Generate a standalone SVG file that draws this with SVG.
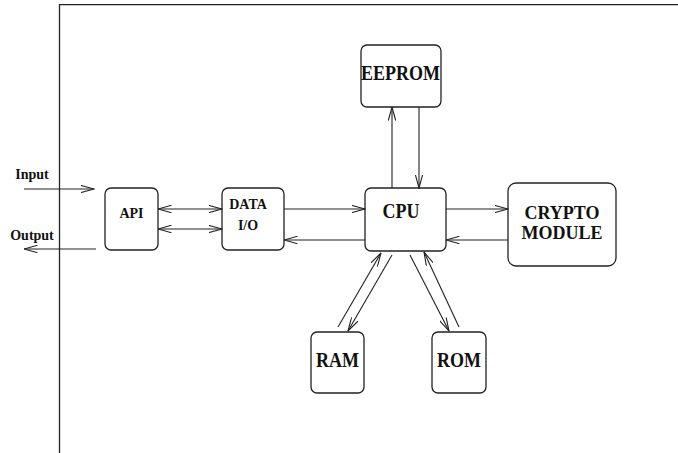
<svg xmlns="http://www.w3.org/2000/svg" width="678" height="453" viewBox="0 0 678 453">
  <style>
    .box { fill: #fff; stroke: #222; stroke-width: 1.3; }
    .lbl { font-family: "Liberation Serif", "Times New Roman", serif; font-weight: bold; fill: #111; text-anchor: middle; }
    .sm { font-size: 14px; }
    .lg { font-size: 18px; }
    .wire { stroke: #222; stroke-width: 1.1; fill: none; marker-end: url(#v); }
    .dbl { marker-start: url(#vs); }
    .frame { stroke: #222; stroke-width: 1.3; fill: none; }
  </style>
  <defs>
    <marker id="v" markerUnits="userSpaceOnUse" viewBox="0 0 14 8" markerWidth="14" markerHeight="8" refX="13.5" refY="4" orient="auto">
      <path d="M0,0.3 L13.5,4 L0,7.7" fill="none" stroke="#222" stroke-width="1.1"/>
    </marker>
    <marker id="vs" markerUnits="userSpaceOnUse" viewBox="0 0 14 8" markerWidth="14" markerHeight="8" refX="0.5" refY="4" orient="auto">
      <path d="M14,0.3 L0.5,4 L14,7.7" fill="none" stroke="#222" stroke-width="1.1"/>
    </marker>
  </defs>

  <rect width="678" height="453" fill="#fff"/>

  <!-- boundary of the device -->
  <path class="frame" d="M678,4.7 H59.5 V453"/>

  <!-- external labels -->
  <text class="lbl sm" x="32" y="179">Input</text>
  <text class="lbl sm" x="32" y="240">Output</text>

  <g id="api">
    <rect class="box" x="105" y="188" width="53" height="62" rx="6"/>
    <text class="lbl sm" x="131.5" y="218">API</text>
  </g>

  <g id="data-io">
    <rect class="box" x="222" y="188" width="62" height="62" rx="6"/>
    <text class="lbl sm" x="248" y="209">DATA</text>
    <text class="lbl sm" x="248" y="230">I/O</text>
  </g>

  <g id="cpu">
    <rect class="box" x="365" y="188" width="81" height="63" rx="6"/>
    <text class="lbl lg" transform="translate(401,218) scale(1,1.17)">CPU</text>
  </g>

  <g id="eeprom">
    <rect class="box" x="361" y="45" width="80" height="62" rx="6"/>
    <text class="lbl lg" transform="translate(400.5,80) scale(1,1.17)">EEPROM</text>
  </g>

  <g id="crypto">
    <rect class="box" x="508" y="183" width="108" height="83" rx="8"/>
    <text class="lbl lg" transform="translate(562,219) scale(1,1.1)">CRYPTO</text>
    <text class="lbl lg" transform="translate(562,239) scale(1,1.1)">MODULE</text>
  </g>

  <g id="ram">
    <rect class="box" x="311" y="332" width="53" height="61" rx="6"/>
    <text class="lbl lg" transform="translate(337.5,367) scale(1,1.17)">RAM</text>
  </g>

  <g id="rom">
    <rect class="box" x="432" y="332" width="54" height="61" rx="6"/>
    <text class="lbl lg" transform="translate(459,367) scale(1,1.17)">ROM</text>
  </g>

  <g id="connectors">
    <!-- outside world -->
    <line class="wire" x1="24" y1="189" x2="94" y2="189"/>
    <line class="wire" x1="96" y1="249" x2="24" y2="249"/>
    <!-- API <-> DATA I/O -->
    <line class="wire dbl" x1="158" y1="209" x2="222" y2="209"/>
    <line class="wire dbl" x1="158" y1="229" x2="222" y2="229"/>
    <!-- DATA I/O <-> CPU -->
    <line class="wire" x1="284" y1="209" x2="365" y2="209"/>
    <line class="wire" x1="365" y1="240" x2="284" y2="240"/>
    <!-- CPU <-> CRYPTO MODULE -->
    <line class="wire" x1="446" y1="209" x2="508" y2="209"/>
    <line class="wire" x1="508" y1="240" x2="446" y2="240"/>
    <!-- CPU <-> EEPROM -->
    <line class="wire" x1="392" y1="188" x2="392" y2="107"/>
    <line class="wire" x1="419" y1="107" x2="419" y2="188"/>
    <!-- CPU <-> RAM -->
    <line class="wire" x1="338" y1="327" x2="381" y2="253"/>
    <line class="wire" x1="392" y1="255" x2="348" y2="331"/>
    <!-- CPU <-> ROM -->
    <line class="wire" x1="410" y1="255" x2="449" y2="331"/>
    <line class="wire" x1="459" y1="327" x2="424" y2="252"/>
  </g>
</svg>
